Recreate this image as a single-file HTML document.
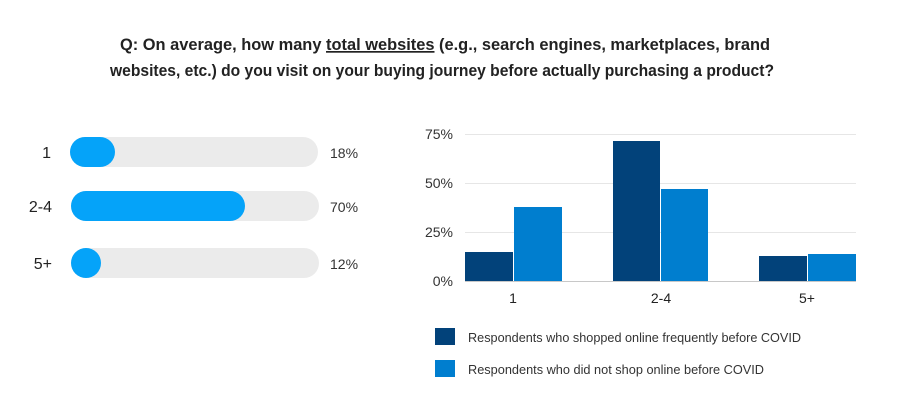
<!DOCTYPE html>
<html><head><meta charset="utf-8"><style>html,body{margin:0;padding:0;background:#fff;width:900px;height:409px;overflow:hidden}</style></head>
<body>
<svg width="900" height="409" viewBox="0 0 900 409" xmlns="http://www.w3.org/2000/svg" font-family="Liberation Sans, sans-serif">
<rect width="900" height="409" fill="#fff"/>
<text x="120" y="50" font-size="17" font-weight="bold" fill="#222" textLength="650" lengthAdjust="spacingAndGlyphs">Q: On average, how many <tspan text-decoration="underline">total websites</tspan> (e.g., search engines, marketplaces, brand</text>
<text x="110" y="76" font-size="17" font-weight="bold" fill="#222" textLength="664" lengthAdjust="spacingAndGlyphs">websites, etc.) do you visit on your buying journey before actually purchasing a product?</text>

<g font-size="16" fill="#222">
<rect x="70" y="137" width="248" height="30" rx="15" fill="#ebebeb"/>
<rect x="70" y="137" width="45" height="30" rx="15" fill="#05a3f9"/>
<text x="51" y="158" text-anchor="end">1</text>
<text x="330" y="158" font-size="14" fill="#333">18%</text>
<rect x="71" y="191" width="248" height="30" rx="15" fill="#ebebeb"/>
<rect x="71" y="191" width="174" height="30" rx="15" fill="#05a3f9"/>
<text x="52" y="212" text-anchor="end">2-4</text>
<text x="330" y="212" font-size="14" fill="#333">70%</text>
<rect x="71" y="248" width="248" height="30" rx="15" fill="#ebebeb"/>
<rect x="71" y="248" width="30" height="30" rx="15" fill="#05a3f9"/>
<text x="52" y="269" text-anchor="end">5+</text>
<text x="330" y="269" font-size="14" fill="#333">12%</text>
</g>

<g stroke="#e6e6e6" stroke-width="1">
<line x1="465" y1="134.5" x2="856" y2="134.5"/>
<line x1="465" y1="183.5" x2="856" y2="183.5"/>
<line x1="465" y1="232.5" x2="856" y2="232.5"/>
</g>
<g font-size="14" fill="#333" text-anchor="end">
<text x="453" y="139">75%</text>
<text x="453" y="188">50%</text>
<text x="453" y="237">25%</text>
<text x="453" y="286">0%</text>
</g>
<rect x="465" y="252" width="48" height="29" fill="#02427a"/>
<rect x="514" y="207" width="48" height="74" fill="#007ecf"/>
<rect x="613" y="141" width="47" height="140" fill="#02427a"/>
<rect x="661" y="189" width="47" height="92" fill="#007ecf"/>
<rect x="759" y="256" width="48" height="25" fill="#02427a"/>
<rect x="808" y="254" width="48" height="27" fill="#007ecf"/>
<line x1="465" y1="281.5" x2="856" y2="281.5" stroke="#c8c8c8"/>
<g font-size="14" fill="#222" text-anchor="middle">
<text x="513" y="303">1</text>
<text x="661" y="303">2-4</text>
<text x="807" y="303">5+</text>
</g>
<rect x="435" y="328" width="20" height="17" fill="#02427a"/>
<rect x="435" y="360" width="20" height="17" fill="#007ecf"/>
<text x="468" y="342" font-size="13" fill="#333" textLength="333" lengthAdjust="spacingAndGlyphs">Respondents who shopped online frequently before COVID</text>
<text x="468" y="374" font-size="13" fill="#333" textLength="296" lengthAdjust="spacingAndGlyphs">Respondents who did not shop online before COVID</text>
</svg>
</body></html>
